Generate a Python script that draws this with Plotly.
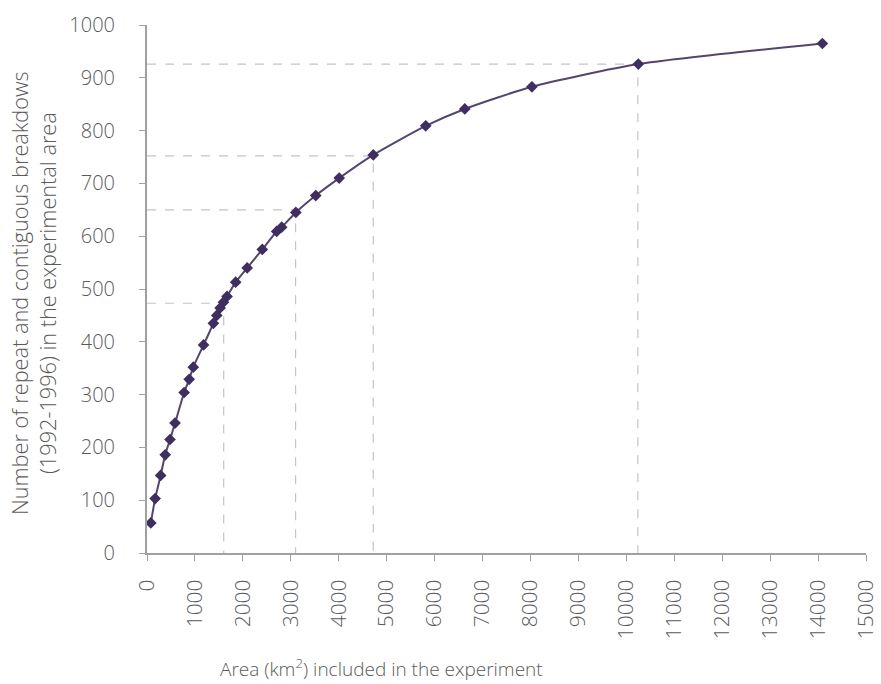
import plotly.graph_objects as go

# Data
area_km2 = [80, 170, 285, 380, 480, 585, 775, 880, 965, 1180, 1385, 1455, 1525, 1595,
            1670, 1850, 2090, 2405, 2705, 2810, 3105, 3520, 4010, 4720, 5815, 6630,
            8030, 10250, 14090]
breakdowns = [57, 103, 147, 186, 215, 246, 304, 329, 352, 394, 435, 450, 464, 475,
              486, 513, 540, 575, 609, 617, 645, 677, 710, 754, 809, 841,
              883, 926, 965]

# Reference guide points (dashed drop lines)
guide_x = [1600, 3100, 4720, 10240]
guide_y = [473, 650, 752, 926]

x_ticks = list(range(0, 15001, 1000))
y_ticks = list(range(0, 1001, 100))

font_family = "'Open Sans', Lato, sans-serif"
text_color = "#5a5a5a"

gx, gy = [], []
for a, b in zip(guide_x, guide_y):
    gx += [0, a, a, None]
    gy += [b, b, 0, None]

fig = go.Figure()
fig.add_trace(go.Scatter(
    x=gx, y=gy, mode="lines",
    line=dict(color="#c4c4c4", width=1.2, dash="dash"),
    hoverinfo="skip", showlegend=False,
))
fig.add_trace(go.Scatter(
    x=area_km2, y=breakdowns, mode="lines+markers",
    line=dict(color="#54456f", width=2, shape="spline", smoothing=0.6),
    marker=dict(symbol="diamond", size=9, color="#3e2f60"),
    showlegend=False,
))

W, H = 881, 684
L, R, T, B = 147, 15, 25, 131
pw, ph = W - L - R, H - T - B

fig.update_layout(
    width=W, height=H,
    margin=dict(l=L, r=R, t=T, b=B, autoexpand=False),
    paper_bgcolor="white", plot_bgcolor="white",
    font=dict(family=font_family, color=text_color, size=18),
    xaxis=dict(
        range=[0, 15000], tickvals=x_ticks, ticktext=[str(v) for v in x_ticks],
        tickangle=-90, showgrid=False, zeroline=False, automargin=False,
        showline=True, linecolor="#a0a0a0", linewidth=2,
        ticks="outside", ticklen=6, tickcolor="#a0a0a0",
        tickfont=dict(size=21, color=text_color, weight=300),
        ticklabelstandoff=10,
    ),
    yaxis=dict(
        range=[0, 1000], tickvals=y_ticks, showgrid=False, zeroline=False, automargin=False,
        showline=True, linecolor="#a0a0a0", linewidth=2,
        ticks="outside", ticklen=6, tickcolor="#a0a0a0",
        tickfont=dict(size=20, color=text_color, weight=300),
        ticklabelstandoff=20,
    ),
    annotations=[
        dict(text="Area (km<sup>2</sup>) included in the experiment",
             xref="paper", yref="paper", x=(381 - L) / pw, y=-(668 - 553) / ph,
             xanchor="center", yanchor="middle", showarrow=False,
             font=dict(size=19, color=text_color, weight=300)),
        dict(text="Number of repeat and contiguous breakdows<br>(1992-1996) in the experimental area",
             xref="paper", yref="paper", x=-(L - 33) / pw, y=(553 - 293) / ph,
             xanchor="center", yanchor="middle", showarrow=False, textangle=-90,
             font=dict(size=21.7, color=text_color, weight=300)),
    ],
)

fig.write_html("out.html", config={"displayModeBar": False},
               post_script="document.body.style.margin='0';")
